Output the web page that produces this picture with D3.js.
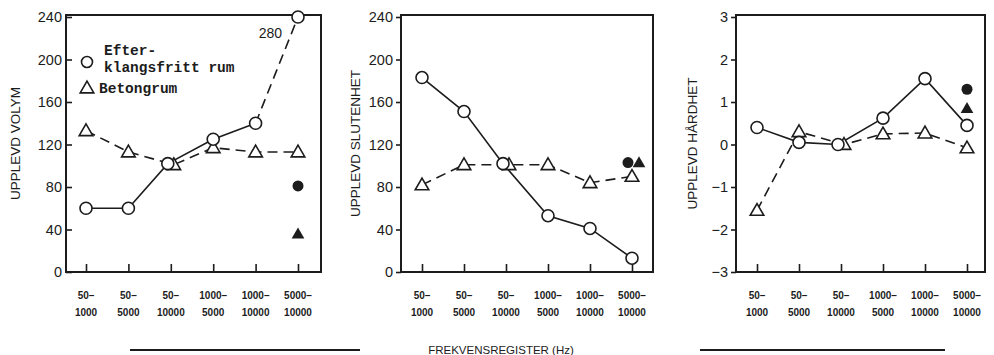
<!DOCTYPE html>
<html><head><meta charset="utf-8">
<script src="https://cdn.jsdelivr.net/npm/d3@7"></script>
<style>
html,body{margin:0;padding:0;background:#fff;}
svg{display:block;}
</style></head>
<body>
<svg id="chart" width="994" height="355"></svg>
<script>
// ---------- data ----------
const categories = ["50-1000","50-5000","50-10000","1000-5000","1000-10000","5000-10000"];
const tickLine1 = ["50–","50–","50–","1000–","1000–","5000–"];
const tickLine2 = ["1000","5000","10000","5000","10000","10000"];

const volymTicks = [0,40,80,120,160,200,240];
const volymAnechoic = [60,60,102,125,140,240];   // last point is 280 (off scale)
const volymConcrete = [133,113,101,117,113,113];
const volymFilledCircle = 81;
const volymFilledTriangle = 36;

const slutTicks = [0,40,80,120,160,200,240];
const slutAnechoic = [183,151,102,53,41,13];
const slutConcrete = [82,101,101,101,84,90];
const slutFilledCircle = 103;
const slutFilledTriangle = 103;

const hardTicks = [-3,-2,-1,0,1,2,3];
const hardAnechoic = [0.4,0.05,0,0.62,1.55,0.45];
const hardConcrete = [-1.55,0.3,0,0.25,0.27,-0.08];
const hardFilledCircle = 1.3;
const hardFilledTriangle = 0.85;

const legendLabels = ["Efter-","klangsfritt rum","Betongrum"];
const xTitle = "FREKVENSREGISTER (Hz)";

// ---------- layout ----------
const ink = "#1c1c1c";
const svg = d3.select("#chart");

const panels = [
  {title:"UPPLEVD VOLYM", ticks:volymTicks, domain:[0,240], open:volymAnechoic, tri:volymConcrete,
   fc:volymFilledCircle, ft:volymFilledTriangle, x0:66, x1:321, padL:20, padR:23, titleX:15, fOff:[0,0], dashLastOpen:true, tickIn:true},
  {title:"UPPLEVD SLUTENHET", ticks:slutTicks, domain:[0,240], open:slutAnechoic, tri:slutConcrete,
   fc:slutFilledCircle, ft:slutFilledTriangle, x0:401, x1:653, padL:21, padR:21, titleX:355, fOff:[-4,7], dashLastOpen:false, tickIn:false},
  {title:"UPPLEVD HÅRDHET", ticks:hardTicks, domain:[-3,3], open:hardAnechoic, tri:hardConcrete,
   fc:hardFilledCircle, ft:hardFilledTriangle, x0:736, x1:985, padL:21, padR:18, titleX:692, fOff:[0,0], dashLastOpen:false, tickIn:false}
];
const yTop = 15, yBottom = 272, yMaxPos = 17;

const triPath = d3.symbol().type(d3.symbolTriangle).size(80);
const triFill = d3.symbol().type(d3.symbolTriangle).size(70);

panels.forEach((p, pi) => {
  const g = svg.append("g");
  const x = d3.scalePoint().domain(categories).range([p.x0 + p.padL, p.x1 - p.padR]);
  const y = d3.scaleLinear().domain(p.domain).range([yBottom, yMaxPos]);

  // frame
  g.append("rect").attr("x", p.x0).attr("y", yTop).attr("width", p.x1 - p.x0).attr("height", yBottom - yTop)
    .attr("fill", "none").attr("stroke", ink).attr("stroke-width", 2);

  // y axis
  const yAxis = d3.axisLeft(y).tickValues(p.ticks).tickSize(p.tickIn ? -6 : 5).tickPadding(p.tickIn ? 4 : 3)
    .tickFormat(d => d < 0 ? "−" + Math.abs(d) : String(d));
  const ya = g.append("g").attr("transform", `translate(${p.x0},0)`).call(yAxis);
  ya.select(".domain").remove();
  ya.selectAll("line").attr("stroke", ink).attr("stroke-width", 1.6);
  ya.selectAll("text").attr("fill", ink).style("font-family", "'Liberation Sans', Arial, sans-serif")
    .style("font-size", "14.5px");
  if (p.tickIn) ya.selectAll("text").attr("x", -4);

  // x axis (ticks inward)
  const xAxis = d3.axisTop(x).tickSize(8).tickFormat("");
  const xa = g.append("g").attr("transform", `translate(0,${yBottom})`).call(xAxis);
  xa.select(".domain").remove();
  xa.selectAll("line").attr("stroke", ink).attr("stroke-width", 1.6);

  // two-line tick labels
  categories.forEach((c, i) => {
    const t = g.append("text").attr("x", x(c)).attr("text-anchor", "middle")
      .attr("fill", ink).style("font-family", "'Liberation Sans', Arial, sans-serif")
      .style("font-size", "10px").style("font-weight", "bold");
    t.append("tspan").attr("x", x(c)).attr("y", 299).text(tickLine1[i]);
    t.append("tspan").attr("x", x(c)).attr("y", 316).text(tickLine2[i]);
  });

  // y title
  g.append("text").attr("transform", `translate(${p.titleX},${(yTop + yBottom) / 2}) rotate(-90)`)
    .attr("text-anchor", "middle").attr("dy", "0.35em").attr("fill", ink)
    .style("font-family", "'Liberation Sans', Arial, sans-serif").style("font-size", "13.5px")
    .text(p.title);

  // marker offsets when open circle and triangle overlap
  const dxO = p.open.map((v, i) => Math.abs(y(v) - y(p.tri[i])) < 8 ? -3 : 0);
  const dxT = p.tri.map((v, i) => Math.abs(y(v) - y(p.open[i])) < 8 ? 3 : 0);

  const ptsO = p.open.map((v, i) => [x(categories[i]) + dxO[i], y(v)]);
  const ptsT = p.tri.map((v, i) => [x(categories[i]) + dxT[i], y(v)]);
  const line = d3.line();

  // concrete room: dashed
  g.append("path").attr("d", line(ptsT)).attr("fill", "none").attr("stroke", ink)
    .attr("stroke-width", 1.6).attr("stroke-dasharray", "10,6");

  // anechoic: solid (last segment dashed in volume panel)
  if (p.dashLastOpen) {
    g.append("path").attr("d", line(ptsO.slice(0, ptsO.length - 1))).attr("fill", "none")
      .attr("stroke", ink).attr("stroke-width", 1.6);
    g.append("path").attr("d", line(ptsO.slice(ptsO.length - 2))).attr("fill", "none")
      .attr("stroke", ink).attr("stroke-width", 1.6).attr("stroke-dasharray", "10,6");
  } else {
    g.append("path").attr("d", line(ptsO)).attr("fill", "none").attr("stroke", ink).attr("stroke-width", 1.6);
  }

  // markers
  g.selectAll(".tri").data(ptsT).enter().append("path")
    .attr("d", triPath).attr("transform", d => `translate(${d[0]},${d[1] + 1})`)
    .attr("fill", "#fff").attr("stroke", ink).attr("stroke-width", 1.6);
  g.selectAll(".circ").data(ptsO).enter().append("circle")
    .attr("cx", d => d[0]).attr("cy", d => d[1]).attr("r", 6)
    .attr("fill", "#fff").attr("stroke", ink).attr("stroke-width", 1.6);

  // filled reference markers
  const xl = x(categories[categories.length - 1]);
  g.append("circle").attr("cx", xl + p.fOff[0]).attr("cy", y(p.fc)).attr("r", 5.5).attr("fill", ink);
  g.append("path").attr("d", triFill).attr("transform", `translate(${xl + p.fOff[1]},${y(p.ft) + 1})`).attr("fill", ink);

  if (pi === 0) {
    // off-scale annotation
    g.append("text").attr("x", 282).attr("y", 38).attr("text-anchor", "end").attr("fill", ink)
      .style("font-family", "'Liberation Sans', Arial, sans-serif").style("font-size", "14px").text("280");
    // legend
    const mono = "'Liberation Mono', 'DejaVu Sans Mono', monospace";
    g.append("circle").attr("cx", 87).attr("cy", 62).attr("r", 5.5).attr("fill", "#fff")
      .attr("stroke", ink).attr("stroke-width", 1.6);
    g.append("path").attr("d", triPath).attr("transform", "translate(87,89)")
      .attr("fill", "#fff").attr("stroke", ink).attr("stroke-width", 1.6);
    [[legendLabels[0], 104, 55], [legendLabels[1], 104, 72], [legendLabels[2], 99, 93]].forEach(([t, lx, ly]) => {
      g.append("text").attr("x", lx).attr("y", ly).attr("fill", ink)
        .style("font-family", mono).style("font-size", "14.5px").style("font-weight", "bold").text(t);
    });
  }
});

// bottom title with rules
svg.append("text").attr("x", 501).attr("y", 354).attr("text-anchor", "middle").attr("fill", ink)
  .style("font-family", "'Liberation Sans', Arial, sans-serif").style("font-size", "11.5px")
  .text(xTitle);
svg.append("line").attr("x1", 130).attr("x2", 360).attr("y1", 350).attr("y2", 350).attr("stroke", ink).attr("stroke-width", 2);
svg.append("line").attr("x1", 700).attr("x2", 945).attr("y1", 350).attr("y2", 350).attr("stroke", ink).attr("stroke-width", 2);
</script>
</body></html>
